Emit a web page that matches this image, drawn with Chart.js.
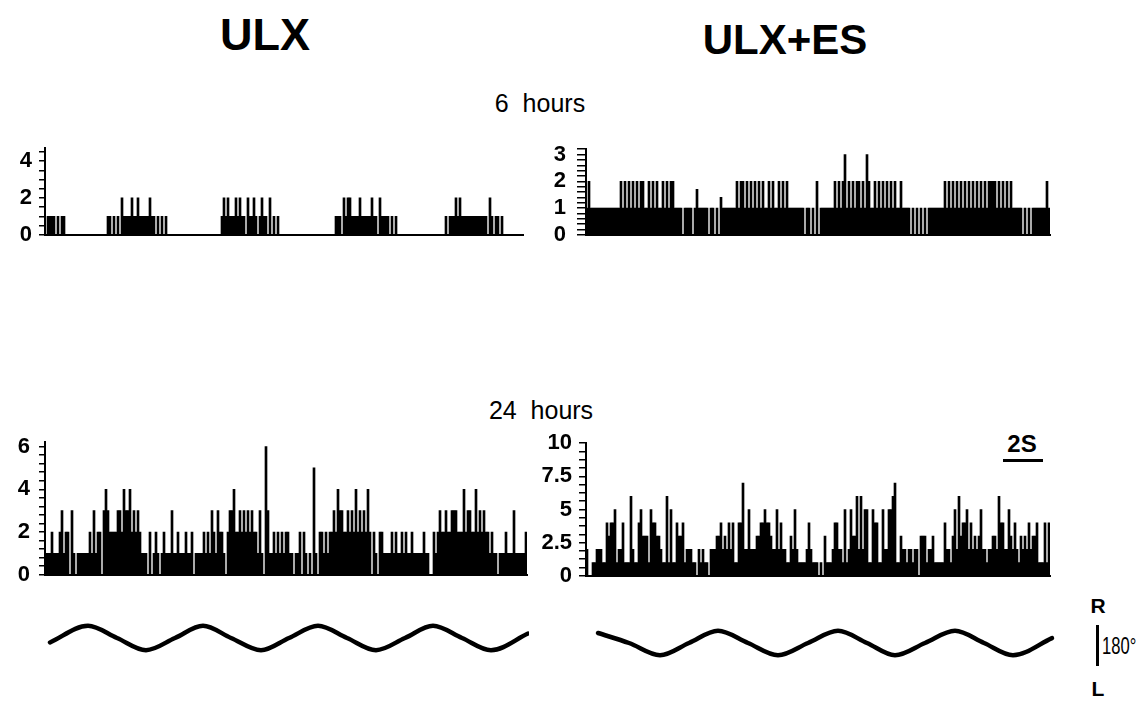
<!DOCTYPE html>
<html>
<head>
<meta charset="utf-8">
<script src="https://cdn.jsdelivr.net/npm/chart.js@4.4.1/dist/chart.umd.min.js"></script>
<style>
  body { margin: 0; background: #fff; }
  #page { position: relative; width: 1140px; height: 701px; overflow: hidden;
          font-family: "Liberation Sans", Arial, sans-serif; color: #000; }
  canvas { position: absolute; }
  .txt { position: absolute; white-space: pre; line-height: 1; transform: translate(-50%, -50%); }
  .bar { position: absolute; background: #000; }
</style>
</head>
<body>
<div id="page">
  <div class="txt" style="left:265px;top:34px;font-size:45px;font-weight:bold;">ULX</div>
  <div class="txt" style="left:785px;top:40px;font-size:42px;font-weight:bold;">ULX+ES</div>
  <div class="txt" style="left:540px;top:103px;font-size:25px;">6  hours</div>
  <div class="txt" style="left:541px;top:410px;font-size:25px;">24  hours</div>
  <div class="txt" style="left:1022px;top:444px;font-size:24px;font-weight:bold;">2S</div>
  <div class="bar" style="left:1003px;top:459px;width:40px;height:3px;"></div>
  <div class="txt" style="left:1098px;top:605px;font-size:21px;font-weight:bold;">R</div>
  <div class="bar" style="left:1096px;top:625px;width:3px;height:41px;"></div>
  <div class="txt" style="left:1102px;top:646px;font-size:23px;transform:translate(0,-50%) scaleX(0.72);transform-origin:left center;">180°</div>
  <div class="txt" style="left:1098px;top:688px;font-size:21px;font-weight:bold;">L</div>

  <canvas id="ulx6"></canvas>
  <canvas id="es6"></canvas>
  <canvas id="ulx24"></canvas>
  <canvas id="es24"></canvas>
  <canvas id="waveUlx"></canvas>
  <canvas id="waveEs"></canvas>
</div>
<script>
// --- Data: spike counts per 2-px bin ---
const ulx6h = [
  0,1,1,1,1,0,1,0,1,1,
  0,0,0,0,0,0,0,0,0,0,0,0,0,0,0,0,0,0,0,0,0,
  1,1,0,1,0,1,0, 2,1,1,1,1,2,1,1,2,1,1,1,1,1,2,1,1, 0,1,0,1,0,1,
  0,0,0,0,0,0,0,0,0,0,0,0,0,0,0,0,0,0,0,0,0,0,0,0,0,0,0,
  1,2,1,2,1,1,1,2,1,2, 1,1,0,2,1,1,2,1,0,1, 2,1,1,0,2,0,1,0,1,
  0,0,0,0,0,0,0,0,0,0,0,0,0,0,0,0,0,0,0,0,0,0,0,0,0,0,0,0,
  1,1,1,0,2,1,2,2,1,1, 1,1,2,1,1,1,1,1,2,1, 1,0,2,1,1,1,1,0,1,0, 1,
  0,0,0,0,0,0,0,0,0,0,0,0,0,0,0,0,0,0,0,0,0,0,0,0,
  1,0,1,1,1,2,1,2,1,1, 1,1,1,1,1,1,1,1,1,1, 1,0,2,1,0,1,1,0,1,
  0,0,0,0,0,0,0,0,0,0
];

const es6h = [
  1,2,1,1,1,1,1,1,1,1,1,1,1,1,1,1,1,
  2,1,2,1,2,1,2,1,2,1,2,2,1,1,2,1,2,1,2,1,1,2,1,2,1,2,2,1,
  1,1,1,
  0,1,1,1,1,0,1,1.7,1,1,1,1,1,0,1,1,0,1,0,1.4,1,
  1,1,1,1,1,1,2,1,2,2,1,2,1,2,1,2,1,2,1,2,1,1,2,1,2,1,1,2,1,2,1,2,1,1,1,1,1,1,1,1,
  0,1,1,0,1,0,2,0,
  1,1,1,1,1,1,1,2,1,2,1,2,3,1,2,1,2,1,2,2,1,2,1,3,2,1,1,2,1,2,1,2,1,2,1,2,1,2,1,1,2,1,1,1,1,
  0,1,0,1,0,1,0,1,0,1,
  1,1,1,1,1,1,1,2,1,2,1,2,1,2,1,2,1,2,1,2,1,2,1,2,1,2,1,2,1,2,2,2,2,1,2,1,2,1,2,1,2,1,1,1,1,1,
  0,1,0,1,0,1,
  1,1,1,1,1,1,2,1
];

const ulx24h = [
  1,1,1,2,1,1,1,2,3,1, 2,2,0,3,1,0,1,1,1,1, 1,1,2,1,3,1,2,2,0,3,
  4,3,2,2,2,2,3,3,2,4, 3,3,4,2,3,2,3,2,1,1, 1,0,2,0,1,2,1,0,1,2,
  1,1,1,3,1,1,2,1,1,1, 2,1,1,2,0,1,1,1,1,2, 1,2,1,3,2,1,3,2,2,1,
  0,2,3,3,4,2,2,3,2,3, 2,3,2,3,2,2,1,3,1,0, 6,3,1,1,2,1,2,1,2,1,
  2,2,1,1,0,1,1,2,0,2, 1,0,1,0,5,1,0,2,2,1, 2,1,2,2,3,2,4,3,3,2,
  2,3,2,3,2,4,2,3,2,3, 2,4,2,0,2,1,0,2,2,1, 1,1,1,2,1,2,1,1,2,1,
  2,1,1,2,1,1,1,1,1,2, 1,1,0,0,2,1,2,3,2,2, 3,2,2,3,3,3,2,2,2,4,
  2,3,3,2,2,4,2,3,2,3, 2,2,1,2,1,1,0,1,1,1, 2,1,1,1,3,1,1,1,1,1,2
];

const es24h = [
  2,0,0,1,1,2,2,2,1,1, 4,3,4,4,5,1,2,2,4,1, 1,1,6,2,1,1,4,5,3,3,
  3,1,5,4,4,3,3,2,1,1, 6,1,5,1,1,4,3,3,4,1, 2,2,2,1,1,0,2,1,2,1,
  1,0,2,2,2,3,3,4,2,3, 2,4,2,4,1,1,4,4,7,2, 2,5,2,2,2,3,3,4,4,5,
  4,4,3,2,2,5,2,4,2,2, 1,1,3,2,5,2,1,1,1,1, 2,4,2,1,1,1,0,1,0,3,
  1,1,1,2,4,4,2,2,1,5, 1,2,5,3,3,6,2,6,2,5, 5,1,1,5,4,4,1,1,5,2,
  2,5,5,6,7,1,1,3,2,2, 1,2,2,1,2,2,0,3,3,3, 1,2,2,3,1,1,1,1,1,4,
  2,2,1,3,5,2,6,3,4,4, 5,2,4,2,3,2,3,5,2,2, 1,2,2,3,3,2,6,4,4,2,
  2,5,3,2,4,2,1,3,2,3, 2,4,2,3,3,4,1,1,1,4, 1,4
];

// Head position traces (time in s, angle in degrees, + = right)
const waveUlxT   = [0.25, 2.15, 3.6, 5.05, 6.5, 7.9, 9.3, 10.8, 12.2, 13.65, 15.1, 16.55, 18.0, 19.4, 20.85, 22.3, 24.15];
const waveUlxDeg = [-20, 55, 0, -55, 0, 55, 0, -55, 0, 55, 0, -55, 0, 55, 0, -55, 20];
const waveEsT    = [0.65, 2.2, 3.75, 5.2, 6.65, 8.15, 9.65, 11.15, 12.65, 14.1, 15.5, 17.0, 18.5, 19.95, 21.4, 23.35];
const waveEsDeg  = [45, 0, -55, 0, 55, 0, -55, 0, 55, 0, -55, 0, 55, 0, -55, 22];

const BIN_PX = 2;
const tickFont = { family: 'Liberation Sans', size: 22, weight: 'bold' };

function histPanel(id, counts, cfg) {
    const el = document.getElementById(id);
    const padT = 14, padB = 14, padR = 4;
    el.width = cfg.axisW + counts.length * BIN_PX + padR;
    el.height = cfg.height + padT + padB;
    el.style.left = (cfg.left - cfg.axisW) + 'px';
    el.style.top = (cfg.top - padT) + 'px';

    new Chart(el, {
        type: 'bar',
        data: {
            labels: counts.map((_, i) => i),
            datasets: [{
                data: counts,
                backgroundColor: '#000',
                borderWidth: 0,
                barPercentage: 1,
                categoryPercentage: 1
            }]
        },
        options: {
            responsive: false,
            animation: false,
            devicePixelRatio: 1,
            layout: { padding: { top: padT, bottom: padB, left: 0, right: padR } },
            plugins: { legend: { display: false }, tooltip: { enabled: false } },
            scales: {
                x: {
                    grid: { display: false, drawTicks: false },
                    ticks: { display: false },
                    border: { display: true, color: '#000', width: 2 }
                },
                y: {
                    min: 0,
                    max: cfg.max,
                    afterFit: s => { s.width = cfg.axisW; },
                    ticks: {
                        stepSize: cfg.step,
                        includeBounds: false,
                        autoSkip: false,
                        color: '#000',
                        font: tickFont,
                        padding: cfg.pad,
                        callback: v => {
                            const k = v / cfg.major;
                            return Math.abs(k - Math.round(k)) < 1e-6 ? String(+v.toFixed(3)) : '';
                        }
                    },
                    grid: { drawOnChartArea: false, drawTicks: true, tickLength: cfg.tick, color: '#000', lineWidth: 1.5 },
                    border: { color: '#000', width: 2 }
                }
            }
        }
    });
}

function wavePanel(id, ts, degs, cfg) {
    const el = document.getElementById(id);
    el.width = Math.round(cfg.tmax * cfg.pxPerSec);
    el.height = 60;
    el.style.left = cfg.left + 'px';
    el.style.top = (cfg.center - 30) + 'px';

    new Chart(el, {
        type: 'line',
        data: {
            datasets: [{
                data: ts.map((t, i) => ({ x: t, y: degs[i] })),
                borderColor: '#000',
                borderWidth: 4.5,
                borderCapStyle: 'round',
                pointRadius: 0,
                cubicInterpolationMode: 'monotone',
                clip: false
            }]
        },
        options: {
            responsive: false,
            animation: false,
            devicePixelRatio: 1,
            layout: { padding: 0 },
            plugins: { legend: { display: false }, tooltip: { enabled: false } },
            scales: {
                x: { type: 'linear', display: false, min: 0, max: cfg.tmax },
                y: { display: false, min: -135, max: 135 }
            }
        }
    });
}

histPanel('ulx6',  ulx6h,  { left: 45,  top: 142, height: 99,  max: 4.7, step: 0.5,   major: 2,   axisW: 45, tick: 6, pad: 7 });
histPanel('es6',   es6h,   { left: 586, top: 139, height: 106, max: 3.2, step: 0.2,   major: 1,   axisW: 45, tick: 9, pad: 11 });
histPanel('ulx24', ulx24h, { left: 45,  top: 434, height: 149, max: 6.2, step: 0.4,   major: 2,   axisW: 45, tick: 6, pad: 9 });
histPanel('es24',  es24h,  { left: 586, top: 437, height: 145, max: 10,  step: 0.625, major: 2.5, axisW: 60, tick: 7, pad: 7 });

wavePanel('waveUlx', waveUlxT, waveUlxDeg, { left: 45,  center: 638, tmax: 24.2, pxPerSec: 20 });
wavePanel('waveEs',  waveEsT,  waveEsDeg,  { left: 585, center: 643, tmax: 23.5, pxPerSec: 20 });
</script>
</body>
</html>
